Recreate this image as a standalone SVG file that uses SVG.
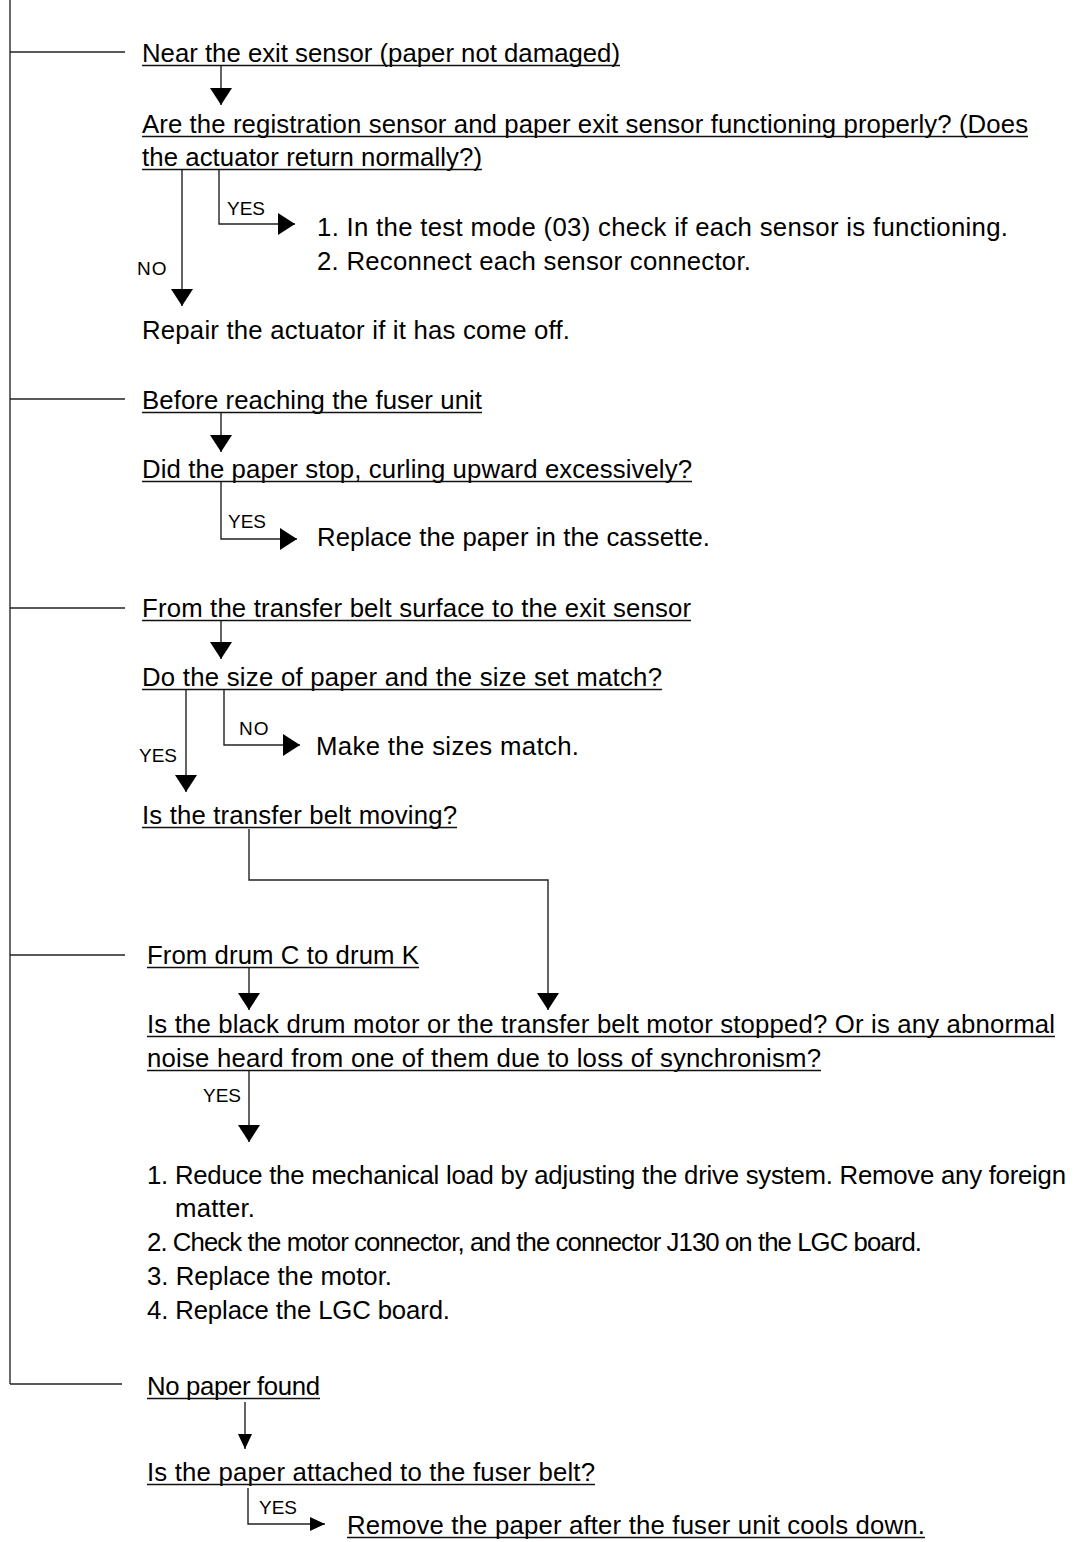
<svg xmlns="http://www.w3.org/2000/svg" width="1079" height="1542" viewBox="0 0 1079 1542">
<defs>
<style>
.t{font-family:"Liberation Sans",Arial,Helvetica,sans-serif;font-size:25.75px;fill:#000}
.l{font-family:"Liberation Sans",Arial,Helvetica,sans-serif;font-size:19px;fill:#000}
.ul{stroke:#111;stroke-width:1.5}
.c{fill:none;stroke:#222;stroke-width:1.4}
.trunk{fill:none;stroke:#444;stroke-width:1.6}
</style>
<marker id="ah" markerUnits="userSpaceOnUse" markerWidth="18" markerHeight="22" refX="17" refY="11" orient="auto">
<path d="M0,0 L17,11 L0,22 Z" fill="#000"/>
</marker>
<marker id="ahs" markerUnits="userSpaceOnUse" markerWidth="16" markerHeight="16" refX="15" refY="7" orient="auto">
<path d="M0,0 L15,7 L0,14 Z" fill="#000"/>
</marker>
</defs>
<rect width="1079" height="1542" fill="#fff"/>

<g id="connectors">
<path class="trunk" d="M10,0 V1384"/>
<path class="c" d="M10,52 H125"/>
<path class="c" d="M10,399 H125"/>
<path class="c" d="M10,608 H125"/>
<path class="c" d="M10,955 H125"/>
<path class="c" d="M10,1384 H122"/>
<path class="c" d="M221,66 V105" marker-end="url(#ah)"/>
<path class="c" d="M182,169 V306" marker-end="url(#ah)"/>
<path class="c" d="M219,169 V224 H295" marker-end="url(#ah)"/>
<path class="c" d="M221,412 V452" marker-end="url(#ah)"/>
<path class="c" d="M221,482 V539 H297" marker-end="url(#ah)"/>
<path class="c" d="M221,621 V659" marker-end="url(#ah)"/>
<path class="c" d="M186,690 V792" marker-end="url(#ah)"/>
<path class="c" d="M224,690 V745 H300" marker-end="url(#ah)"/>
<path class="c" d="M249,829 V880 H548 V1010" marker-end="url(#ah)"/>
<path class="c" d="M249,968 V1010" marker-end="url(#ah)"/>
<path class="c" d="M249,1071 V1142" marker-end="url(#ah)"/>
<path class="c" d="M245,1402 V1449" marker-end="url(#ahs)"/>
<path class="c" d="M248,1488 V1524 H325" marker-end="url(#ahs)"/>
</g>

<g id="labels">
<text class="l" x="227" y="215">YES</text>
<text class="l" x="137" y="275" letter-spacing="1">NO</text>
<text class="l" x="228" y="528">YES</text>
<text class="l" x="239" y="735" letter-spacing="1">NO</text>
<text class="l" x="139" y="762">YES</text>
<text class="l" x="203" y="1102">YES</text>
<text class="l" x="259" y="1514">YES</text>
</g>

<g id="s1-start">
<text class="t" x="142" y="62" textLength="478" lengthAdjust="spacing">Near the exit sensor (paper not damaged)</text>
<line class="ul" x1="142" y1="65.5" x2="620" y2="65.5"/>
</g>
<g id="s1-question">
<text class="t" x="142" y="133" textLength="886" lengthAdjust="spacing">Are the registration sensor and paper exit sensor functioning properly? (Does</text>
<line class="ul" x1="142" y1="136.5" x2="1028" y2="136.5"/>
<text class="t" x="142" y="166" textLength="340" lengthAdjust="spacing">the actuator return normally?)</text>
<line class="ul" x1="142" y1="169.5" x2="482" y2="169.5"/>
</g>
<g id="s1-yes">
<text class="t" x="317" y="236" textLength="691" lengthAdjust="spacing">1.  In the test mode (03) check if each sensor is functioning.</text>
<text class="t" x="317" y="270" textLength="434" lengthAdjust="spacing">2.  Reconnect each sensor connector.</text>
</g>
<g id="s1-no"><text class="t" x="142" y="339" textLength="428" lengthAdjust="spacing">Repair the actuator if it has come off.</text></g>

<g id="s2-start">
<text class="t" x="142" y="409" textLength="340" lengthAdjust="spacing">Before reaching the fuser unit</text>
<line class="ul" x1="142" y1="412.5" x2="482" y2="412.5"/>
</g>
<g id="s2-question">
<text class="t" x="142" y="478" textLength="550" lengthAdjust="spacing">Did the paper stop, curling upward excessively?</text>
<line class="ul" x1="142" y1="481.5" x2="692" y2="481.5"/>
</g>
<g id="s2-yes"><text class="t" x="317" y="546" textLength="393" lengthAdjust="spacing">Replace the paper in the cassette.</text></g>

<g id="s3-start">
<text class="t" x="142" y="617" textLength="549" lengthAdjust="spacing">From the transfer belt surface to the exit sensor</text>
<line class="ul" x1="142" y1="620.5" x2="691" y2="620.5"/>
</g>
<g id="s3-question">
<text class="t" x="142" y="686" textLength="520" lengthAdjust="spacing">Do the size of paper and the size set match?</text>
<line class="ul" x1="142" y1="689.5" x2="662" y2="689.5"/>
</g>
<g id="s3-no"><text class="t" x="316" y="755" textLength="263" lengthAdjust="spacing">Make the sizes match.</text></g>
<g id="s3-question2">
<text class="t" x="142" y="824" textLength="315" lengthAdjust="spacing">Is the transfer belt moving?</text>
<line class="ul" x1="142" y1="827.5" x2="457" y2="827.5"/>
</g>

<g id="s4-start">
<text class="t" x="147" y="964" textLength="272" lengthAdjust="spacing">From drum C to drum K</text>
<line class="ul" x1="147" y1="967.5" x2="419" y2="967.5"/>
</g>
<g id="s4-question">
<text class="t" x="147" y="1033" textLength="908" lengthAdjust="spacing">Is the black drum motor or the transfer belt motor stopped? Or is any abnormal</text>
<line class="ul" x1="147" y1="1036.5" x2="1055" y2="1036.5"/>
<text class="t" x="147" y="1067" textLength="674" lengthAdjust="spacing">noise heard from one of them due to loss of synchronism?</text>
<line class="ul" x1="147" y1="1070.5" x2="821" y2="1070.5"/>
</g>
<g id="s4-yes">
<text class="t" x="147" y="1184" textLength="919" lengthAdjust="spacing">1. Reduce the mechanical load by adjusting the drive system.  Remove any foreign</text>
<text class="t" x="175" y="1217" textLength="80" lengthAdjust="spacing">matter.</text>
<text class="t" x="147" y="1251" textLength="775" lengthAdjust="spacing">2. Check the motor connector, and the connector J130 on the LGC board.</text>
<text class="t" x="147" y="1285" textLength="245" lengthAdjust="spacing">3. Replace the motor.</text>
<text class="t" x="147" y="1319" textLength="303" lengthAdjust="spacing">4. Replace the LGC board.</text>
</g>

<g id="s5-start">
<text class="t" x="147" y="1395" textLength="173" lengthAdjust="spacing">No paper found</text>
<line class="ul" x1="147" y1="1398.5" x2="320" y2="1398.5"/>
</g>
<g id="s5-question">
<text class="t" x="147" y="1481" textLength="448" lengthAdjust="spacing">Is the paper attached to the fuser belt?</text>
<line class="ul" x1="147" y1="1484.5" x2="595" y2="1484.5"/>
</g>
<g id="s5-yes">
<text class="t" x="347" y="1534" textLength="578" lengthAdjust="spacing">Remove the paper after the fuser unit cools down.</text>
<line class="ul" x1="347" y1="1537.5" x2="925" y2="1537.5"/>
</g>
</svg>
